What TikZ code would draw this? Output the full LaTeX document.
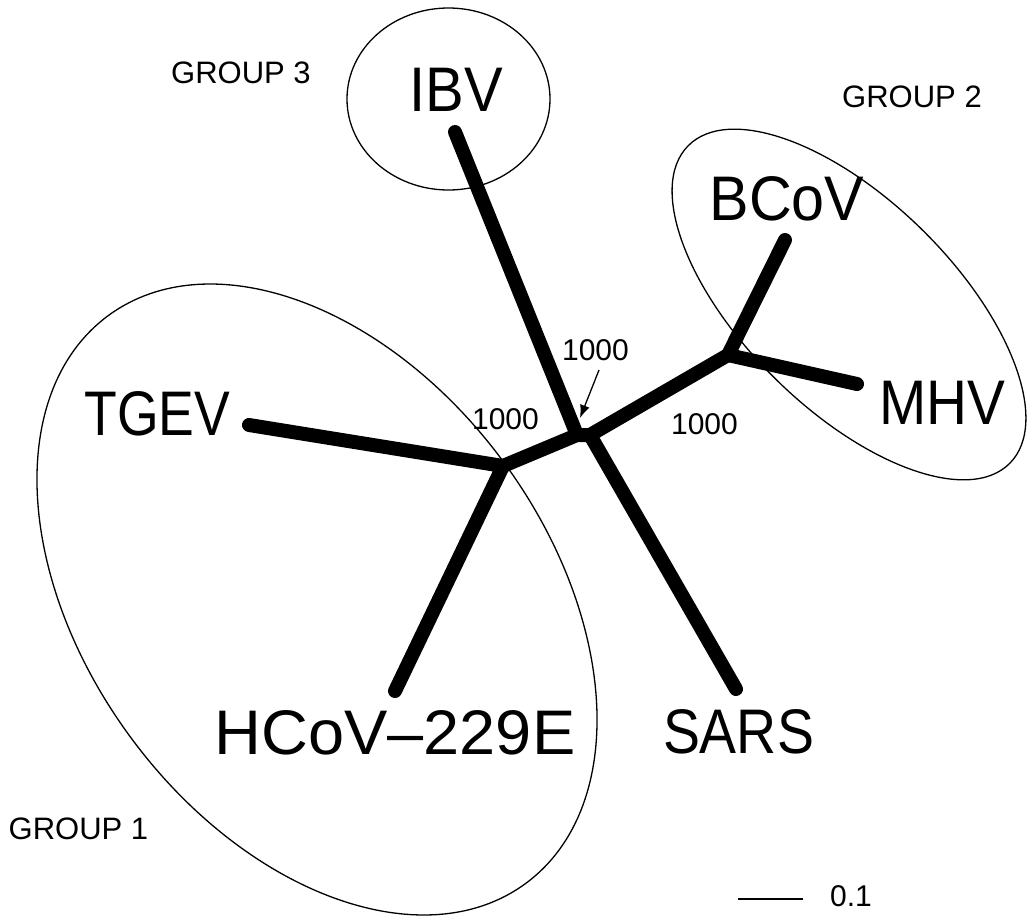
\documentclass[tikz,border=0pt]{standalone}
\usepackage{fontspec}
\setmainfont{Liberation Sans}
\usetikzlibrary{arrows.meta}
\begin{document}
\begin{tikzpicture}[x=1pt,y=-1pt,
  branch/.style={line width=14pt, line cap=round, line join=round},
  taxon/.style={inner sep=0pt, font=\fontsize{63}{63}\selectfont},
  grp/.style={inner sep=0pt, font=\fontsize{31}{31}\selectfont},
  boot/.style={inner sep=0pt, font=\fontsize{30}{30}\selectfont},
  hull/.style={line width=1.3pt}]
\fill[white] (0,0) rectangle (1029,921);
\useasboundingbox (0,0) rectangle (1029,921);
% group outlines
\draw[hull] (448.5,99) ellipse [x radius=101.5, y radius=91];
\draw[hull, rotate around={-44.6:(849,304.5)}] (849,304.5) ellipse [x radius=226, y radius=104.6];
\draw[hull, rotate around={-53.7:(317,599.5)}] (317,599.5) ellipse [x radius=352.4, y radius=231.8];
% tree coordinates
\coordinate (tIBV) at (455,132);
\coordinate (tBCoV) at (785,240);
\coordinate (tMHV) at (857,384);
\coordinate (tTGEV) at (249,425);
\coordinate (tHCoV) at (395,691);
\coordinate (tSARS) at (736,689);
\coordinate (jL) at (503,466);
\coordinate (jC1) at (577,435);
\coordinate (jC2) at (590,435);
\coordinate (jR) at (728,355);
% branches
\draw[branch] (tTGEV) -- (jL) -- (tHCoV);
\draw[branch] (jL) -- (jC1) -- (jC2) -- (jR);
\draw[branch] (tIBV) -- (jC1);
\draw[branch] (jC2) -- (tSARS);
\draw[branch] (tBCoV) -- (jR) -- (tMHV);
% taxon labels
\node[taxon] (IBV) at (456.5,90) {\scalebox{0.92}[1]{IBV}};
\node[taxon] (BCoV) at (787,198.5) {\scalebox{0.94}[1]{BCoV}};
\node[taxon] (MHV) at (942.5,402.5) {\scalebox{0.9}[1]{MHV}};
\node[taxon] (TGEV) at (157.5,413.5) {\scalebox{0.85}[1]{TGEV}};
\node[taxon] (HCoV) at (395,732.5) {\scalebox{1.03}[1]{HCoV–229E}};
\node[taxon] (SARS) at (738.5,731.5) {\scalebox{0.88}[1]{SARS}};
% group labels
\node[grp] (g3) at (241,72.5) {GROUP 3};
\node[grp] (g2) at (912,96.5) {GROUP 2};
\node[grp] (g1) at (78.5,829) {GROUP 1};
% bootstrap values
\node[boot] (b1) at (595.5,350.5) {1000};
\node[boot] (b2) at (505.5,419) {1000};
\node[boot] (b3) at (704.5,424) {1000};
\coordinate (aS) at (599,370);
\coordinate (aE) at (580,418);
\draw[line width=1.3pt, -{Latex[length=13pt,width=10pt]}] (aS) -- (aE);
% scale bar
\coordinate (sL) at (738,899);
\coordinate (sR) at (803,899);
\draw[line width=1.3pt] (sL) -- (sR);
\node[boot] (sc) at (851,896) {0.1};
\end{tikzpicture}
\end{document}
